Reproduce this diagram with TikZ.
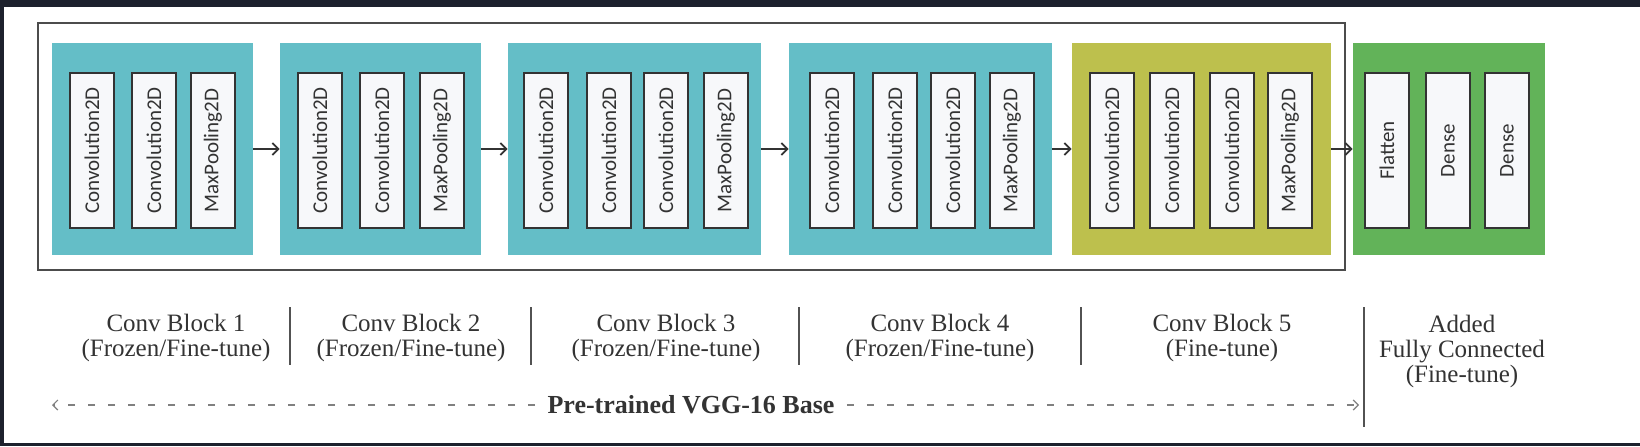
\documentclass[tikz,border=0pt]{standalone}
\usepackage{fontspec}
\setmainfont{Liberation Serif}
\newfontfamily\layerfont{Carlito}
\usetikzlibrary{arrows.meta}
\definecolor{shotframe}{HTML}{1D212D}
\definecolor{convteal}{HTML}{64BEC7}
\definecolor{convolive}{HTML}{BDC04D}
\definecolor{densegreen}{HTML}{62B359}
\definecolor{layerwhite}{HTML}{F7F8FA}
\definecolor{inkgray}{HTML}{333333}

\begin{document}
\begin{tikzpicture}[x=.5pt,y=-.5pt,
  convblock/.style={inner sep=0pt,minimum height=106pt},
  layerbox/.style={draw=inkgray,line width=.9pt,fill=layerwhite,rotate=90,inner sep=0pt,
    minimum width=77.5pt,minimum height=22pt,text=inkgray,font=\layerfont\fontsize{10.5}{12}\selectfont},
  flow/.style={draw=inkgray,line width=.9pt,-{Straight Barb[length=3pt,width=6pt]}},
  sepline/.style={draw=inkgray!85,line width=1pt},
  blocklabel/.style={align=center,text=inkgray,font=\fontsize{12.5}{12.5}\selectfont},
  vggdash/.style={draw=gray,line width=.6pt,dash pattern=on 3.5pt off 6.5pt,-{Straight Barb[length=2.5pt,width=5pt]}}]
\useasboundingbox (0,0) rectangle (1640,446);
\fill[white] (0,0) rectangle (1640,446);
\fill[shotframe] (0,0) rectangle (1640,7);
\fill[shotframe] (0,0) rectangle (4,446);
\fill[shotframe] (0,443) rectangle (1640,446);
\draw[black!70,line width=1.4pt] (38,23) rectangle (1345,270);

\node[convblock,fill=convteal,minimum width=100.5pt] (blk1) at (152.5,149) {};
\node[convblock,fill=convteal,minimum width=100.5pt] (blk2) at (380.5,149) {};
\node[convblock,fill=convteal,minimum width=126.5pt] (blk3) at (634.5,149) {};
\node[convblock,fill=convteal,minimum width=131.5pt] (blk4) at (920.5,149) {};
\node[convblock,fill=convolive,minimum width=129.5pt] (blk5) at (1201.5,149) {};
\node[convblock,fill=densegreen,minimum width=96pt] (blk6) at (1449,149) {};

\node[layerbox] (c1a) at (92,150.5) {Convolution2D};
\node[layerbox] (c1b) at (154,150.5) {Convolution2D};
\node[layerbox] (c1c) at (213,150.5) {MaxPooling2D};
\node[layerbox] (c2a) at (320,150.5) {Convolution2D};
\node[layerbox] (c2b) at (382,150.5) {Convolution2D};
\node[layerbox] (c2c) at (442,150.5) {MaxPooling2D};
\node[layerbox] (c3a) at (546,150.5) {Convolution2D};
\node[layerbox] (c3b) at (609,150.5) {Convolution2D};
\node[layerbox] (c3c) at (666,150.5) {Convolution2D};
\node[layerbox] (c3d) at (726,150.5) {MaxPooling2D};
\node[layerbox] (c4a) at (832,150.5) {Convolution2D};
\node[layerbox] (c4b) at (895,150.5) {Convolution2D};
\node[layerbox] (c4c) at (953,150.5) {Convolution2D};
\node[layerbox] (c4d) at (1012,150.5) {MaxPooling2D};
\node[layerbox] (c5a) at (1112,150.5) {Convolution2D};
\node[layerbox] (c5b) at (1172,150.5) {Convolution2D};
\node[layerbox] (c5c) at (1232,150.5) {Convolution2D};
\node[layerbox] (c5d) at (1290,150.5) {MaxPooling2D};
\node[layerbox] (fc1) at (1387,150.5) {Flatten};
\node[layerbox] (fc2) at (1448,150.5) {Dense};
\node[layerbox] (fc3) at (1507,150.5) {Dense};

\draw[flow] (blk1) -- (blk2);
\draw[flow] (blk2) -- (blk3);
\draw[flow] (blk3) -- (blk4);
\draw[flow] (blk4) -- (blk5);
\draw[flow] (blk5) -- (blk6);

\node[blocklabel] (lab1) at (176,338) {Conv Block 1\\(Frozen/Fine-tune)};
\node[blocklabel] (lab2) at (411,338) {Conv Block 2\\(Frozen/Fine-tune)};
\node[blocklabel] (lab3) at (666,338) {Conv Block 3\\(Frozen/Fine-tune)};
\node[blocklabel] (lab4) at (940,338) {Conv Block 4\\(Frozen/Fine-tune)};
\node[blocklabel] (lab5) at (1222,338) {Conv Block 5\\(Fine-tune)};
\node[blocklabel] (lab6) at (1462,351) {Added\\Fully Connected\\(Fine-tune)};
\draw[sepline] (290,307) -- (290,365);
\draw[sepline] (531,307) -- (531,365);
\draw[sepline] (799,307) -- (799,365);
\draw[sepline] (1081,307) -- (1081,365);
\draw[sepline] (1364,307) -- (1364,427);

\coordinate (vggL) at (52,405);
\coordinate (vggR) at (1359,405);
\node[text=inkgray,inner xsep=6pt,font=\bfseries\fontsize{13}{13}\selectfont] (vgg) at (691,405) {Pre-trained VGG-16 Base};
\draw[vggdash] (vgg.west) -- (vggL);
\draw[vggdash] (vgg.east) -- (vggR);
\end{tikzpicture}
\end{document}
